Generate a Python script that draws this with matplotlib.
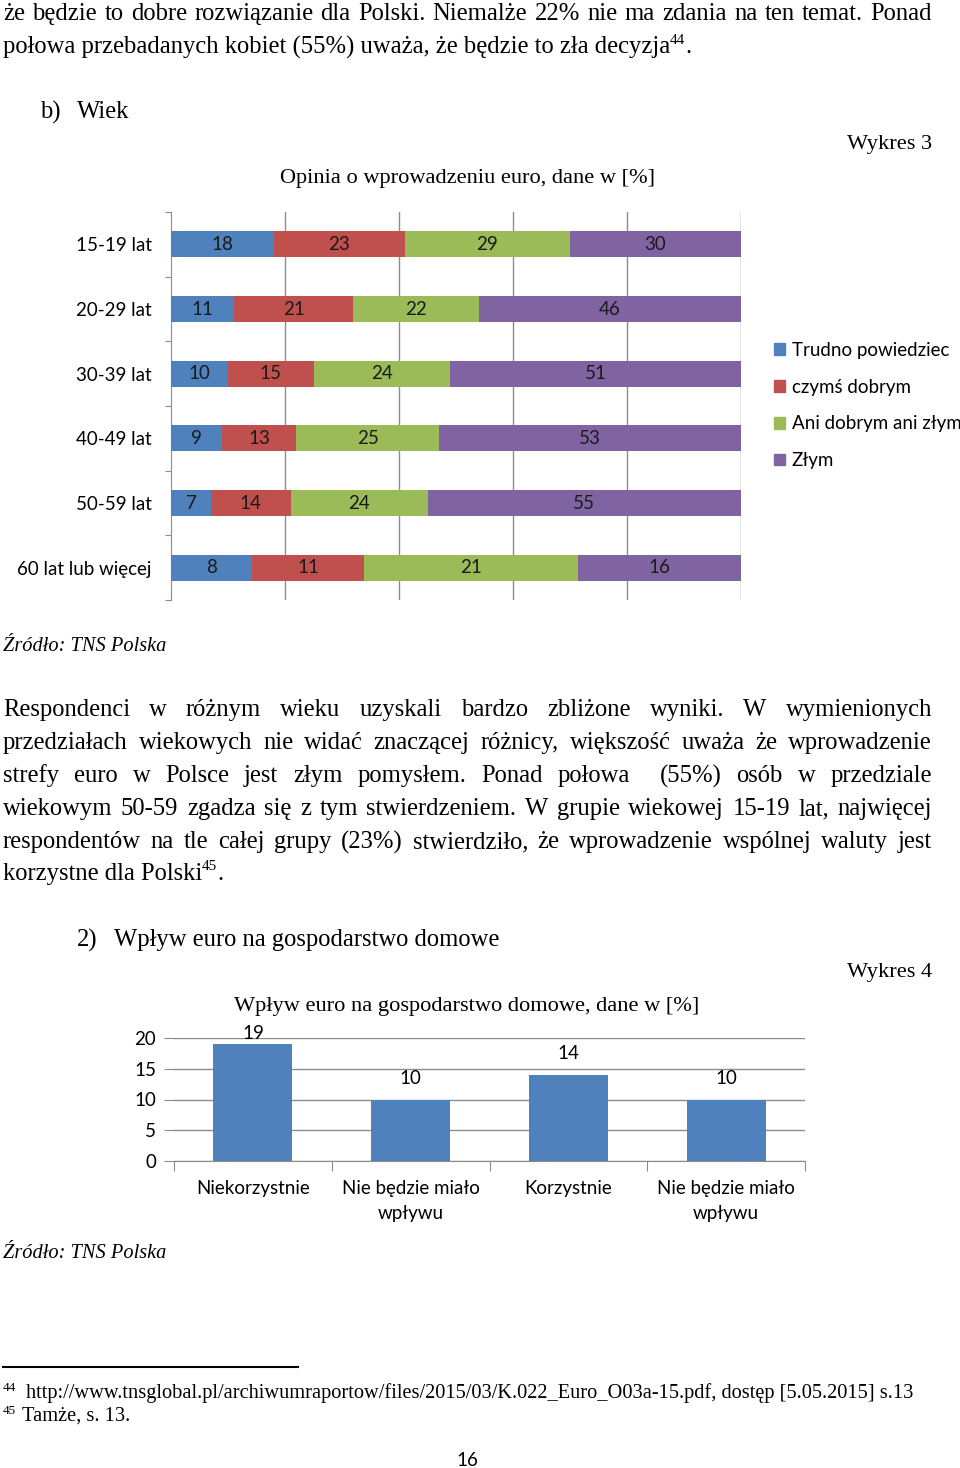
import numpy as np
import matplotlib
matplotlib.use('Agg')
import matplotlib.pyplot as plt
from matplotlib.patches import Patch
from matplotlib.lines import Line2D

W, H = 960, 1468
SERIF = 'Liberation Serif'
SANS = 'Lato'
BODY = 17.7
TITLE = 16.1
LAB = 13.5

# data: Wykres 3
age_groups = ['15-19 lat', '20-29 lat', '30-39 lat', '40-49 lat', '50-59 lat', '60 lat lub więcej']
opinion_labels = ['Trudno powiedziec', 'czymś dobrym', 'Ani dobrym ani złym', 'Złym']
trudno = [18, 11, 10, 9, 7, 8]
dobrym = [23, 21, 15, 13, 14, 11]
ani_ani = [29, 22, 24, 25, 24, 21]
zlym = [30, 46, 51, 53, 55, 16]
colors = ['#4F81BD', '#C0504D', '#9BBB59', '#8064A2']

# data: Wykres 4
impact_labels = ['Niekorzystnie', 'Nie będzie miało\nwpływu', 'Korzystnie', 'Nie będzie miało\nwpływu']
impact_values = [19, 10, 14, 10]

para1 = ['że będzie to dobre rozwiązanie dla Polski. Niemalże 22% nie ma zdania na ten temat. Ponad']
para2 = ['Respondenci w różnym wieku uzyskali bardzo zbliżone wyniki. W wymienionych',
         'przedziałach wiekowych nie widać znaczącej różnicy, większość uważa że wprowadzenie',
         'strefy euro w Polsce jest złym pomysłem. Ponad połowa  (55%) osób w przedziale',
         'wiekowym 50-59 zgadza się z tym stwierdzeniem. W grupie wiekowej 15-19 lat, najwięcej',
         'respondentów na tle całej grupy (23%) stwierdziło, że wprowadzenie wspólnej waluty jest']

fig = plt.figure(figsize=(W / 100, H / 100), dpi=100)
renderer = fig.canvas.get_renderer()


def fx(px):
    return px / W


def fy(py):
    return 1 - (py + 2) / H


def txt(px, py, s, size=BODY, family=SERIF, **kw):
    kw.setdefault('va', 'center')
    return fig.text(fx(px), fy(py), s, size=size, family=family, **kw)


def justify(py, line, x0=3, x1=932):
    words = line.split(' ')
    texts = [txt(0, py, w) for w in words]
    widths = [t.get_window_extent(renderer).width if w else 0 for t, w in zip(texts, words)]
    gap = (x1 - x0 - sum(widths)) / (len(words) - 1)
    x = x0
    for t, w in zip(texts, widths):
        t.set_x(fx(x))
        x += w + gap


def with_sup(px, py, s, sup, tail='.', size=BODY):
    t = txt(px, py, s, size=size)
    x = t.get_window_extent(renderer).x1
    s2 = txt(x, py - 7, sup, size=size * 0.62)
    x = s2.get_window_extent(renderer).x1
    if tail:
        txt(x, py, tail, size=size)


# top text
for i, line in enumerate(para1):
    justify(12 + 33 * i, line)
with_sup(3, 45, 'połowa przebadanych kobiet (55%) uważa, że będzie to zła decyzja', '44')
txt(40, 110, 'b)')
txt(77, 110, 'Wiek')
txt(932, 143, 'Wykres 3', ha='right', size=TITLE)
txt(467, 176, 'Opinia o wprowadzeniu euro, dane w [%]', ha='center', size=TITLE)

# Wykres 3 - stacked bars
ax1 = fig.add_axes([fx(171), 1 - 600 / H, fx(741) - fx(171), (600 - 212) / H])
data = np.array([trudno, dobrym, ani_ani, zlym], dtype=float)
shares = data / data.sum(axis=0)
ypos = np.arange(len(age_groups))
left = np.zeros(len(age_groups))
for i in range(len(opinion_labels)):
    ax1.barh(ypos, shares[i], left=left, height=0.4, color=colors[i], zorder=3)
    for yy, l, w, v in zip(ypos, left, shares[i], data[i]):
        ax1.text(l + w / 2, yy, f'{v:.0f}', ha='center', va='center',
                 family=SANS, size=LAB, color='#1a1a1a', zorder=4)
    left += shares[i]
ax1.set_xlim(0, 1)
ax1.set_ylim(5.5, -0.5)
ax1.set_xticks([0.2, 0.4, 0.6, 0.8, 1.0])
ax1.tick_params(axis='x', length=0, labelbottom=False)
ax1.xaxis.grid(True, color='#8c8c8c', lw=1)
ax1.set_yticks(np.arange(-0.5, 6, 1))
ax1.set_yticklabels([])
ax1.tick_params(axis='y', which='major', length=4, color='#8c8c8c')
ax1.set_yticks(ypos, minor=True)
ax1.set_yticklabels(age_groups, minor=True, family=SANS, size=LAB)
ax1.tick_params(axis='y', which='minor', length=0, pad=14)
for side in ['top', 'right', 'bottom']:
    ax1.spines[side].set_visible(False)
ax1.spines['left'].set_color('#8c8c8c')

handles = [Patch(color=c) for c in colors]
fig.legend(handles, opinion_labels, loc='upper left', bbox_to_anchor=(fx(774), 1 - 342 / H),
           frameon=False, handlelength=0.6, handleheight=0.6, handletextpad=0.35,
           labelspacing=1.05, borderaxespad=0, borderpad=0,
           prop={'family': SANS, 'size': LAB})

txt(3, 645, 'Źródło: TNS Polska', style='italic', size=14.7)

# paragraph
for i, line in enumerate(para2):
    justify(708 + 33 * i, line)
with_sup(3, 872, 'korzystne dla Polski', '45')

txt(77, 938, '2)')
txt(114, 938, 'Wpływ euro na gospodarstwo domowe')
txt(932, 971, 'Wykres 4', ha='right', size=TITLE)
txt(467, 1004, 'Wpływ euro na gospodarstwo domowe, dane w [%]', ha='center', size=TITLE)

# Wykres 4 - columns
ax2 = fig.add_axes([fx(174), 1 - 1161 / H, fx(805) - fx(174), (1161 - 1038) / H])
xpos = np.arange(len(impact_values))
ax2.bar(xpos, impact_values, width=0.5, color='#4F81BD', zorder=3)
for x, v in zip(xpos, impact_values):
    ax2.text(x, min(v + 3.4, 20.8), str(v), ha='center', va='center',
             family=SANS, size=LAB, clip_on=False)
ax2.set_xlim(-0.5, 3.5)
ax2.set_ylim(0, 20)
ax2.set_yticks([0, 5, 10, 15, 20])
ax2.set_yticklabels(['0', '5', '10', '15', '20'], family=SANS, size=LAB)
ax2.tick_params(axis='y', length=7, color='#8c8c8c', pad=6)
ax2.yaxis.grid(True, color='#8c8c8c', lw=1)
ax2.set_xticks(np.arange(-0.5, 4, 1))
ax2.set_xticklabels([])
ax2.tick_params(axis='x', which='major', length=7, color='#8c8c8c')
ax2.set_xticks(xpos, minor=True)
ax2.set_xticklabels(impact_labels, minor=True, family=SANS, size=LAB, linespacing=1.55)
ax2.tick_params(axis='x', which='minor', length=0, pad=14)
for side in ['top', 'right', 'left']:
    ax2.spines[side].set_visible(False)
ax2.spines['bottom'].set_color('#8c8c8c')

txt(3, 1251, 'Źródło: TNS Polska', style='italic', size=14.7)

# footnotes
fig.add_artist(Line2D([fx(3), fx(298)], [1 - 1367 / H, 1 - 1367 / H], color='black', lw=1.5))
txt(3, 1386, '44', size=9.5)
txt(26, 1391, 'http://www.tnsglobal.pl/archiwumraportow/files/2015/03/K.022_Euro_O03a-15.pdf, dostęp [5.05.2015] s.13', size=14.7)
txt(3, 1409, '45', size=9.5)
txt(22, 1414, 'Tamże, s. 13.', size=14.7)
txt(467, 1459, '16', family=SANS, size=LAB, ha='center')

fig.savefig('out.png', dpi=100)
